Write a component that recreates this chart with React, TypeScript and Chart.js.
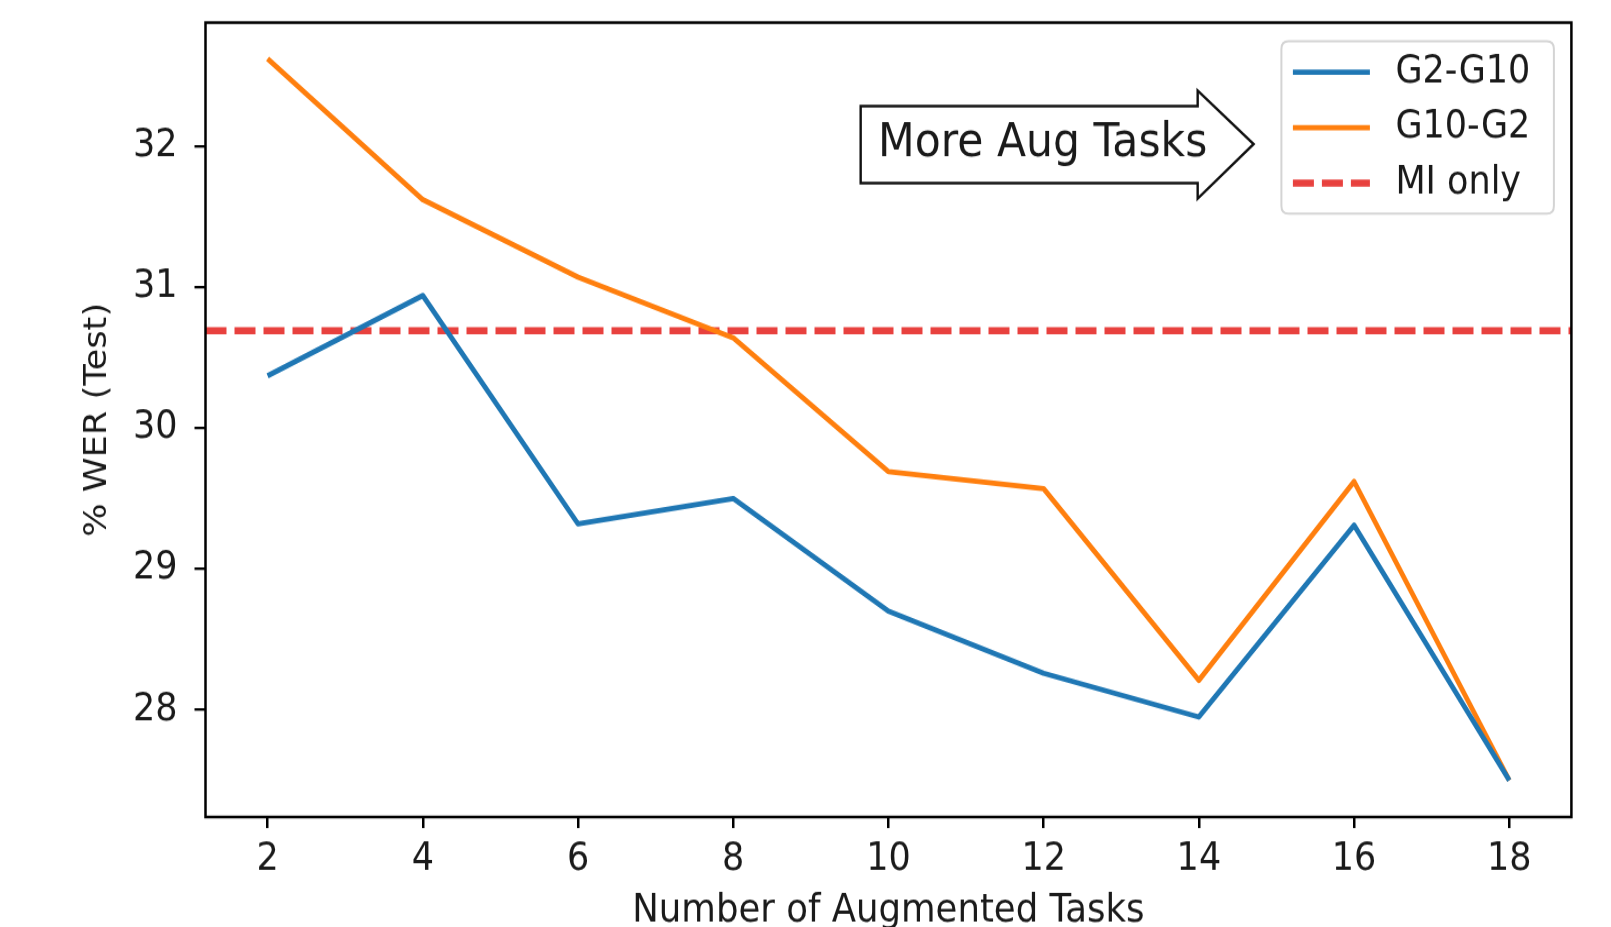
import React, { useEffect, useRef } from "react";
import { Chart, registerables } from "chart.js";

Chart.register(...registerables);

// ---- data ----
const TASKS = [2, 4, 6, 8, 10, 12, 14, 16, 18];
const G2_G10 = [30.37, 30.94, 29.32, 29.5, 28.7, 28.26, 27.95, 29.31, 27.5];
const G10_G2 = [32.62, 31.62, 31.07, 30.64, 29.69, 29.57, 28.21, 29.62, 27.5];
const MI_ONLY = 30.69;
const SERIES_LABELS = ["G2-G10", "G10-G2", "MI only"];
const SERIES_COLORS = ["#1f77b4", "#ff7f0e", "rgb(232,65,62)"];
const X_TICKS = [2, 4, 6, 8, 10, 12, 14, 16, 18];
const Y_TICKS = [28, 29, 30, 31, 32];
const X_LIMITS = [1.2, 18.8];
const Y_LIMITS = [27.24, 32.876];
const X_TITLE = "Number of Augmented Tasks";
const Y_TITLE = "% WER (Test)";
const ANNOT_TEXT = "More Aug Tasks";
const ANNOT_POS = [12, 32];

// ---- page geometry (the original figure is slightly stretched vertically) ----
const W = 1611;
const H_OUT = 927;
const H_IN = 843;
const S = H_OUT / H_IN;

const FONT = "'DejaVu Sans', 'Liberation Sans', sans-serif";
const TEXT_COLOR = "#1a1a1a";

const framePlugin = {
  id: "frame",
  afterDatasetsDraw(chart: any) {
    const { ctx, chartArea: a } = chart;
    ctx.save();
    ctx.strokeStyle = "#000";
    ctx.lineWidth = 2.5;
    ctx.strokeRect(a.left, a.top, a.right - a.left, a.bottom - a.top);
    ctx.restore();
  },
};

const annotationPlugin = {
  id: "arrowAnnot",
  afterDatasetsDraw(chart: any) {
    const { ctx } = chart;
    const cx = chart.scales.x.getPixelForValue(ANNOT_POS[0]);
    const cy = chart.scales.y.getPixelForValue(ANNOT_POS[1]);
    const v = (d: number) => d / S;
    ctx.save();
    ctx.beginPath();
    ctx.moveTo(cx - 183, cy + v(-40));
    ctx.lineTo(cx + 154, cy + v(-40));
    ctx.lineTo(cx + 154, cy + v(-55.5));
    ctx.lineTo(cx + 210, cy + v(-2));
    ctx.lineTo(cx + 154, cy + v(52.5));
    ctx.lineTo(cx + 154, cy + v(37));
    ctx.lineTo(cx - 183, cy + v(37));
    ctx.closePath();
    ctx.fillStyle = "#fff";
    ctx.fill();
    ctx.lineJoin = "miter";
    ctx.strokeStyle = "#111";
    ctx.lineWidth = 2.4;
    ctx.stroke();
    ctx.fillStyle = TEXT_COLOR;
    ctx.font = `42.5px ${FONT}`;
    ctx.textAlign = "center";
    ctx.textBaseline = "middle";
    ctx.fillText(ANNOT_TEXT, cx - 1, cy + v(-2));
    ctx.restore();
  },
};

const legendPlugin = {
  id: "mplLegend",
  afterDraw(chart: any) {
    const { ctx, chartArea: a } = chart;
    const w = 272.5;
    const h = 172.5 / S;
    const x0 = a.right - 17.5 - w;
    const y0 = a.top + 18.5 / S;
    ctx.save();
    const r = 7;
    ctx.beginPath();
    ctx.moveTo(x0 + r, y0);
    ctx.lineTo(x0 + w - r, y0);
    ctx.quadraticCurveTo(x0 + w, y0, x0 + w, y0 + r);
    ctx.lineTo(x0 + w, y0 + h - r);
    ctx.quadraticCurveTo(x0 + w, y0 + h, x0 + w - r, y0 + h);
    ctx.lineTo(x0 + r, y0 + h);
    ctx.quadraticCurveTo(x0, y0 + h, x0, y0 + h - r);
    ctx.lineTo(x0, y0 + r);
    ctx.quadraticCurveTo(x0, y0, x0 + r, y0);
    ctx.closePath();
    ctx.fillStyle = "rgba(255,255,255,0.85)";
    ctx.fill();
    ctx.strokeStyle = "#d4d4d4";
    ctx.lineWidth = 2;
    ctx.stroke();

    chart.data.datasets.forEach((ds: any, i: number) => {
      const yy = y0 + (31 + i * 55.5) / S;
      ctx.beginPath();
      ctx.setLineDash(ds.borderDash || []);
      ctx.strokeStyle = ds.borderColor;
      ctx.lineWidth = ds.borderWidth;
      ctx.moveTo(x0 + 11.5, yy);
      ctx.lineTo(x0 + 88.5, yy);
      ctx.stroke();
      ctx.setLineDash([]);
      ctx.fillStyle = TEXT_COLOR;
      ctx.font = `35px ${FONT}`;
      ctx.textAlign = "left";
      ctx.textBaseline = "middle";
      ctx.fillText(ds.label, x0 + 114, yy);
    });
    ctx.restore();
  },
};

export default function App() {
  const ref = useRef<HTMLCanvasElement | null>(null);

  useEffect(() => {
    document.body.style.margin = "0";
    const canvas = ref.current!;
    const toPts = (ys: number[]) => TASKS.map((x, i) => ({ x, y: ys[i] }));
    const chart = new Chart(canvas, {
      type: "line",
      data: {
        datasets: [
          {
            label: SERIES_LABELS[0],
            data: toPts(G2_G10),
            borderColor: SERIES_COLORS[0],
            backgroundColor: SERIES_COLORS[0],
            borderWidth: 4.8,
            pointRadius: 0,
            tension: 0,
            borderJoinStyle: "round",
          },
          {
            label: SERIES_LABELS[1],
            data: toPts(G10_G2),
            borderColor: SERIES_COLORS[1],
            backgroundColor: SERIES_COLORS[1],
            borderWidth: 4.8,
            pointRadius: 0,
            tension: 0,
            borderJoinStyle: "round",
          },
          {
            label: SERIES_LABELS[2],
            data: [
              { x: X_LIMITS[0], y: MI_ONLY },
              { x: X_LIMITS[1], y: MI_ONLY },
            ],
            borderColor: SERIES_COLORS[2],
            backgroundColor: SERIES_COLORS[2],
            borderWidth: 6.4,
            borderDash: [21, 8],
            pointRadius: 0,
            tension: 0,
          },
        ],
      },
      options: {
        animation: false,
        responsive: false,
        devicePixelRatio: 1,
        events: [],
        layout: { padding: { top: 22.6 / S, right: 39.6, left: 0, bottom: 0 } },
        plugins: {
          legend: { display: false },
          tooltip: { enabled: false },
        },
        scales: {
          x: {
            type: "linear",
            min: X_LIMITS[0],
            max: X_LIMITS[1],
            afterBuildTicks: (s: any) => {
              s.ticks = X_TICKS.map((v) => ({ value: v }));
            },
            afterFit: (s: any) => {
              s.height = 110 / S;
              s.paddingLeft = 0;
              s.paddingRight = 0;
              s.paddingTop = 0;
              s.paddingBottom = 0;
            },
            grid: {
              display: true,
              drawOnChartArea: false,
              drawTicks: true,
              tickLength: 10,
              color: "#000",
              lineWidth: 2.5,
            },
            border: { display: false },
            ticks: {
              autoSkip: false,
              maxRotation: 0,
              padding: 8,
              color: TEXT_COLOR,
              font: { family: FONT, size: 35 },
              callback: (v: any) => String(v),
            },
            title: {
              display: true,
              text: X_TITLE,
              color: TEXT_COLOR,
              font: { family: FONT, size: 35.5, lineHeight: 0.82 },
              padding: { top: 0, bottom: 0 },
            },
          },
          y: {
            type: "linear",
            min: Y_LIMITS[0],
            max: Y_LIMITS[1],
            afterBuildTicks: (s: any) => {
              s.ticks = Y_TICKS.map((v) => ({ value: v }));
            },
            afterFit: (s: any) => {
              s.width = 205.5;
              s.paddingLeft = 0;
              s.paddingRight = 0;
              s.paddingTop = 0;
              s.paddingBottom = 0;
            },
            grid: {
              display: true,
              drawOnChartArea: false,
              drawTicks: true,
              tickLength: 11,
              color: "#000",
              lineWidth: 2.3,
            },
            border: { display: false },
            ticks: {
              autoSkip: false,
              padding: 17,
              color: TEXT_COLOR,
              font: { family: FONT, size: 35 },
              callback: (v: any) => String(v),
            },
            title: {
              display: true,
              text: Y_TITLE,
              color: TEXT_COLOR,
              font: { family: FONT, size: 32, lineHeight: 1.2 },
              padding: { top: 78, bottom: 0 },
            },
          },
        },
      },
      plugins: [framePlugin, annotationPlugin, legendPlugin],
    } as any);
    return () => chart.destroy();
  }, []);

  return (
    <div style={{ width: W, height: H_OUT, background: "#fff" }}>
      <canvas
        ref={ref}
        width={W}
        height={H_IN}
        style={{ display: "block", width: `${W}px`, height: `${H_OUT}px` }}
      />
    </div>
  );
}
